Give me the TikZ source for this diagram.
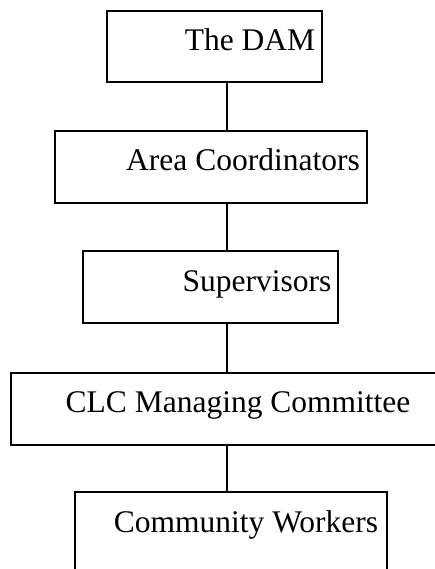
\documentclass[tikz,border=0pt]{standalone}
\usepackage{fontspec}
\setmainfont{Liberation Serif}
\begin{document}
\begin{tikzpicture}[x=1pt,y=-1pt,
  box/.style={draw=black, line width=1.8pt, rectangle, inner sep=0pt},
  lbl/.style={anchor=base, inner sep=0pt, font=\fontsize{31.5}{36}\selectfont},
  link/.style={draw=black, line width=1.8pt}]
\useasboundingbox (0,0) rectangle (435,569);
\clip (0,0) rectangle (435,569);
\coordinate (axis) at (227,0);
% boxes
\node[box, minimum width=215pt, minimum height=71pt] (dam) at (214.5,46.5) {};
\node[box, minimum width=312pt, minimum height=72pt] (ac) at (211,167) {};
\node[box, minimum width=255pt, minimum height=72pt] (sup) at (210.5,287) {};
\node[box, minimum width=432pt, minimum height=72pt] (clc) at (227,409) {};
\node[box, minimum width=312pt, minimum height=90pt] (cw) at (231,537) {};
% texts
\node[lbl] (damt) at (250,51) {The DAM};
\node[lbl] (act) at (243,171) {Area Coordinators};
\node[lbl] (supt) at (257,291) {Supervisors};
\node[lbl] (clct) at (238,412) {CLC Managing Committee};
\node[lbl] (cwt) at (246,532) {Community Workers};
% connectors
\draw[link] (dam.south -| axis) -- (ac.north -| axis);
\draw[link] (ac.south -| axis) -- (sup.north -| axis);
\draw[link] (sup.south -| axis) -- (clc.north -| axis);
\draw[link] (clc.south -| axis) -- (cw.north -| axis);
\end{tikzpicture}
\end{document}
